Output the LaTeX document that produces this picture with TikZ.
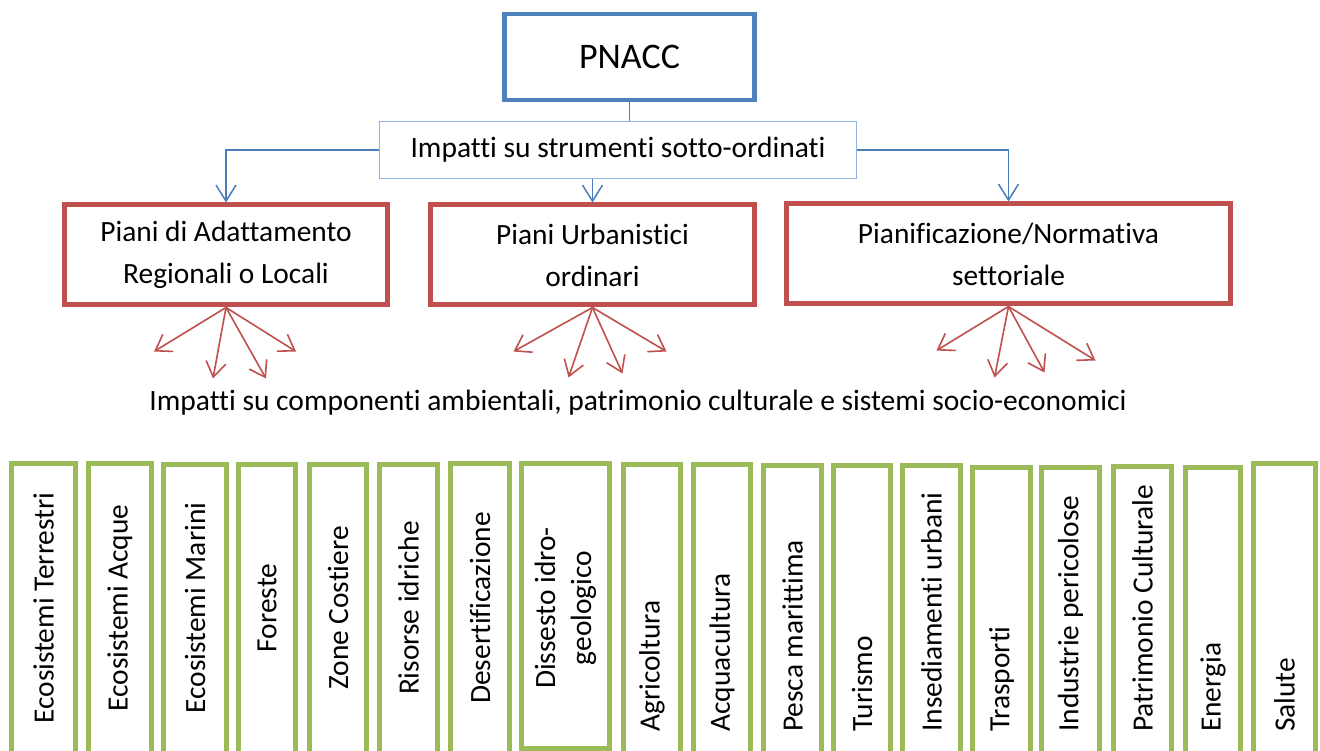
\documentclass[tikz,border=0pt]{standalone}
\usepackage{fontspec}
\setmainfont{Carlito}[Ligatures=NoCommon]
\usetikzlibrary{arrows.meta}
\definecolor{pblue}{HTML}{4F81BD}
\definecolor{lblue}{HTML}{8EB4E3}
\definecolor{cblue}{HTML}{4A7EBB}
\definecolor{pred}{HTML}{C0504D}
\definecolor{pgreen}{HTML}{9BBB59}
\tikzset{
  topbox/.style={draw=pblue, line width=4.5pt, minimum width=250pt, minimum height=86pt, inner sep=0pt, font=\fontsize{36}{40}\selectfont},
  midbox/.style={draw=lblue, line width=1.3pt, minimum width=477pt, minimum height=57pt, inner sep=0pt, font=\fontsize{29.5}{35}\selectfont},
  redbox/.style={draw=pred, line width=5pt, minimum height=100pt, inner sep=0pt, align=center, font=\fontsize{29.4}{42}\selectfont},
  bline/.style={draw=cblue, line width=1.5pt},
  barrow/.style={bline, -{Straight Barb[length=16pt, width=20pt, line width=1.5pt]}},
  rarrow/.style={draw=pred, line width=1.6pt, -{Straight Barb[length=15pt, width=20pt, line width=1.6pt]}},
  gbox/.style={draw=pgreen, line width=5pt, inner sep=0pt},
  gtext/.style={rotate=90, inner sep=0pt, align=center, font=\fontsize{29.4}{36}\selectfont},
  plain/.style={inner sep=0pt, font=\fontsize{29.5}{35}\selectfont}
}
\begin{document}
\begin{tikzpicture}[x=1pt, y=-1pt]
\useasboundingbox[fill=white] (0,0) rectangle (1320,751);

% top
\node[topbox] (pnacc) at (629.5,57) {PNACC};
\node[midbox] (mid) at (618,150) {Impatti su strumenti sotto-ordinati};
\draw[bline] (pnacc.south) -- (pnacc.south |- mid.north);

% red boxes
\node[redbox, minimum width=323pt] (r1) at (226,255) {Piani di Adattamento\\Regionali o Locali};
\node[redbox, minimum width=324pt] (r2) at (592.5,255) {Piani Urbanistici\\ordinari};
\node[redbox, minimum width=444pt] (r3) at (1008.5,254) {Pianificazione/Normativa\\settoriale};

\draw[barrow] (mid.west) -| (r1.north);
\draw[barrow] (mid.south -| r2.north) -- (r2.north);
\draw[barrow] (mid.east) -| (r3.north);

% red fans
\foreach \b/\list in {r1/{-72/44,-13/71,40/71,70/44}, r2/{-79/44,-24/70,30/66,74/44}, r3/{-72/44,-14/71,36/66,87/54}}{
  \foreach \dx/\dy [count=\i] in \list {
    \path (\b.south) ++(\dx,\dy) coordinate (\b t\i);
    \draw[rarrow] (\b.south) -- (\b t\i);
  }
}

\node[plain] (imp) at (638,403) {Impatti su componenti ambientali, patrimonio culturale e sistemi socio-economici};

% green boxes
\foreach \l/\r/\t/\txt/\m [count=\k] in {
  9/78/458/{Ecosistemi Terrestri}/c,
  86/154/458/{Ecosistemi Acque}/c,
  161/229/459/{Ecosistemi Marini}/c,
  236/298/459/{Foreste}/c,
  307/369/459/{Zone Costiere}/c,
  377/440/459/{Risorse idriche}/c,
  448/512/458/{Desertificazione}/c,
  519/612/458/{Dissesto idro-\\geologico}/c,
  621/683/459/{Agricoltura}/b,
  691/753/459/{Acquacultura}/b,
  761/824/460/{Pesca marittima}/b,
  831/893/460/{Turismo}/b,
  900/963/460/{Insediamenti urbani}/b,
  970/1033/462/{Trasporti}/b,
  1039/1102/462/{Industrie pericolose}/b,
  1111/1174/461/{Patrimonio Culturale}/b,
  1183/1243/462/{Energia}/b,
  1251/1318/458/{Salute}/b}{
  \pgfmathsetmacro{\cx}{(\l+\r)/2}
  \pgfmathsetmacro{\w}{\r-\l-5}
  \ifnum\k=8
    \pgfmathsetmacro{\h}{748-\t-5}
  \else
    \pgfmathsetmacro{\h}{770-\t}
  \fi
  \node[gbox, anchor=north, minimum width=\w pt, minimum height=\h pt] (g\k) at (\cx,\t+2.5) {};
  \if\m c
    \node[gtext] (gt\k) at (\cx,608) {\txt};
  \else
    \node[gtext, anchor=west] (gt\k) at (\cx,732) {\txt};
  \fi
}
\end{tikzpicture}
\end{document}
